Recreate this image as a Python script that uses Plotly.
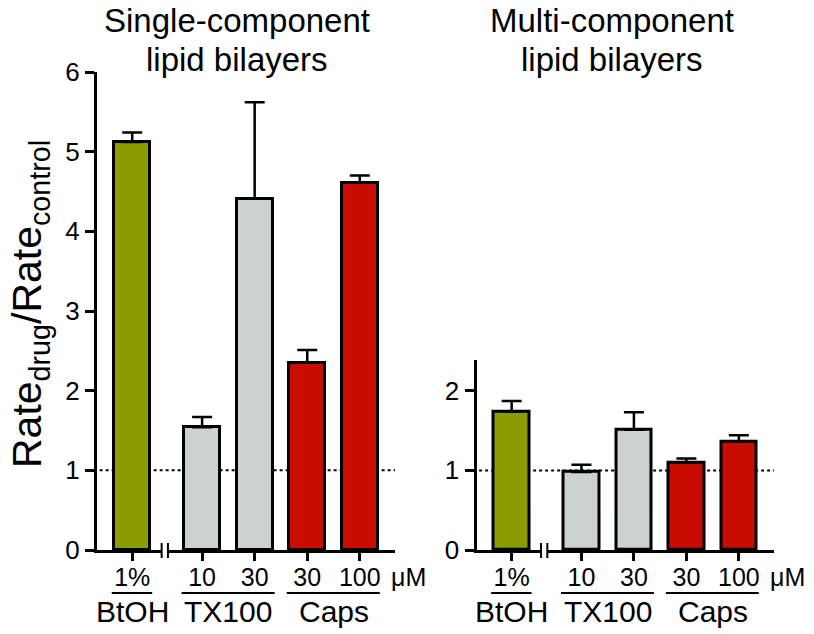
import plotly.graph_objects as go

# ---- data ----
categories = ["1%", "10", "30", "30", "100"]
groups = ["BtOH", "TX100", "Caps"]
bar_colors = ["#8a9c00", "#cbd2d0", "#cbd2d0", "#c80c00", "#c80c00"]
single_vals = [5.12, 1.54, 4.41, 2.35, 4.61]
single_err = [0.12, 0.13, 1.21, 0.16, 0.09]
multi_vals = [1.74, 0.98, 1.51, 1.10, 1.36]
multi_err = [0.13, 0.09, 0.22, 0.05, 0.08]
panel_titles = [["Single-component", "lipid bilayers"], ["Multi-component", "lipid bilayers"]]
unit_label = "μM"
y_title = "Rate<sub>drug</sub>/Rate<sub>control</sub>"

# ---- layout helpers ----
W, H = 814, 634
OFF = 8  # page body margin
FW, FH = W - OFF, H - OFF
FONT = "Liberation Sans, Arial, Helvetica, sans-serif"
pos = [0, 1.33, 2.33, 3.33, 4.33]
group_members = [[0], [1, 2], [3, 4]]

def px(xp):
    return (xp - OFF) / FW

def py(yp):
    return 1 - (yp - OFF) / FH

fig = go.Figure()
for i, (vals, errs) in enumerate([(single_vals, single_err), (multi_vals, multi_err)]):
    ax = "" if i == 0 else "2"
    fig.add_trace(go.Bar(
        x=pos, y=vals, width=0.68,
        marker=dict(color=bar_colors, line=dict(color="black", width=3)),
        error_y=dict(type="data", symmetric=False, array=errs,
                     arrayminus=[0] * len(errs), color="black",
                     thickness=2.5, width=10),
        xaxis="x" + ax, yaxis="y" + ax, showlegend=False,
    ))

xdom = [[px(97), px(395)], [px(476.5), px(774)]]
ydom = [[py(550), py(72)], [py(550), py(359.7)]]
yr = [[0, 6], [0, 2.39]]
yt = [[0, 1, 2, 3, 4, 5, 6], [0, 1, 2]]
xr = [-0.67, 5.0]

layout = dict(
    template="none",
    width=FW, height=FH, margin=dict(l=0, r=0, t=0, b=0, autoexpand=False),
    paper_bgcolor="white", plot_bgcolor="white",
    font=dict(family=FONT, color="black"),
    bargap=0,
)
for i in range(2):
    ax = "" if i == 0 else "2"
    layout["xaxis" + ax] = dict(
        domain=xdom[i], range=xr, anchor="y" + ax, automargin=False,
        tickvals=pos, ticktext=categories, ticks="outside",
        ticklen=8, tickwidth=3, tickcolor="black",
        showline=True, linewidth=3, linecolor="black",
        showgrid=False, zeroline=False,
        tickfont=dict(size=25, family=FONT, color="black"),
        ticklabelstandoff=-5,
    )
    layout["yaxis" + ax] = dict(
        domain=ydom[i], range=yr[i], anchor="x" + ax, automargin=False,
        tickvals=yt[i], ticks="outside",
        ticklen=9, tickwidth=3, tickcolor="black",
        showline=True, linewidth=3, linecolor="black",
        showgrid=False, zeroline=False,
        tickfont=dict(size=26, family=FONT, color="black"),
        ticklabelstandoff=0,
    )
fig.update_layout(**layout)

shapes = []
annotations = []
for i in range(2):
    ax = "" if i == 0 else "2"
    xref = "x" + ax
    # dotted reference line at 1
    shapes.append(dict(type="line", xref=xref, yref="y" + ax,
                       x0=xr[0] + 0.05, x1=xr[1], y0=1, y1=1,
                       line=dict(color="black", width=2, dash="dot"),
                       layer="below"))
    # axis break
    shapes.append(dict(type="rect", xref=xref, yref="paper",
                       x0=0.56, x1=0.68, y0=py(555), y1=py(545),
                       fillcolor="white", line=dict(width=0), layer="above"))
    for xb in (0.56, 0.68):
        shapes.append(dict(type="line", xref=xref, yref="paper",
                           x0=xb, x1=xb, y0=py(558), y1=py(543),
                           line=dict(color="black", width=2), layer="above"))
    # group underlines and labels
    for g, members in zip(groups, group_members):
        x0 = pos[members[0]] - 0.39
        x1 = pos[members[-1]] + 0.38
        shapes.append(dict(type="line", xref=xref, yref="paper",
                           x0=x0, x1=x1, y0=py(593), y1=py(593),
                           line=dict(color="black", width=2)))
        annotations.append(dict(text=g, xref=xref, yref="paper",
                                x=(pos[members[0]] + pos[members[-1]]) / 2,
                                y=py(611), xanchor="center", yanchor="middle",
                                showarrow=False,
                                font=dict(size=30, family=FONT, color="black")))
    # unit label
    annotations.append(dict(text=unit_label, xref=xref, yref="paper",
                            x=pos[-1] + 0.55, y=py(577), xanchor="left",
                            yanchor="middle", showarrow=False,
                            font=dict(size=25, family=FONT, color="black")))

# panel titles (one annotation per line)
for lines, xc in zip(panel_titles, [237, 612]):
    for line, yc in zip(lines, [21, 59]):
        annotations.append(dict(text=line, xref="paper", yref="paper",
                                x=px(xc), y=py(yc), xanchor="center", yanchor="middle",
                                showarrow=False, borderpad=0,
                                font=dict(size=33, family=FONT, color="black")))

# y-axis title
annotations.append(dict(text=y_title, xref="paper", yref="paper",
                        x=px(30), y=py(304), xanchor="center", yanchor="middle",
                        textangle=-90, showarrow=False, borderpad=0,
                        font=dict(size=41, family=FONT, color="black")))

fig.update_layout(shapes=shapes, annotations=annotations)
fig.write_html("out.html")
